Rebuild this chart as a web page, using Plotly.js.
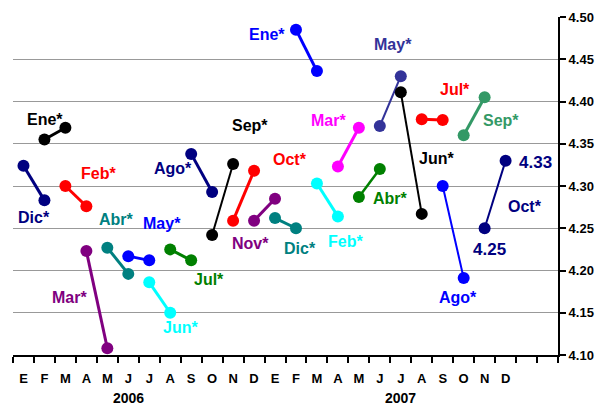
<!DOCTYPE html>
<html><head><meta charset="utf-8">
<script src="https://cdn.plot.ly/plotly-3.0.1.min.js"></script>
<style>html,body{margin:0;padding:0;background:#fff}#chart{width:603px;height:407px}</style>
</head><body><div id="chart"></div>
<script>
// ---- data ----
const months = ['E','F','M','A','M','J','J','A','S','O','N','D','E','F','M','A','M','J','J','A','S','O','N','D'];
const years = ['2006','2007'];
const seriesNames = ['Dic*','Ene*','Feb*','Mar*','Abr*','May*','Jun*','Jul*','Ago*','Sep*','Oct*','Nov*',
                     'Dic*','Ene*','Feb*','Mar*','Abr*','May*','Jun*','Jul*','Ago*','Sep*','Oct*'];
const startValues = [4.324,4.355,4.300,4.223,4.227,4.217,4.186,4.225,4.338,4.242,4.259,4.259,
                     4.262,4.485,4.303,4.323,4.287,4.371,4.411,4.379,4.300,4.360,4.25];
const endValues   = [4.283,4.369,4.276,4.108,4.196,4.212,4.150,4.212,4.293,4.326,4.318,4.285,
                     4.250,4.436,4.264,4.369,4.320,4.430,4.267,4.378,4.191,4.405,4.33];
const valueLabels = ['4.25','4.33'];

// ---- styles / layout helpers ----
const colors = ['#000080','#000000','#FF0000','#800080','#008080','#0000FF','#00FFFF','#008000','#000080','#000000','#FF0000','#800080',
                '#008080','#0000FF','#00FFFF','#FF00FF','#008000','#333399','#000000','#FF0000','#0000FF','#339966','#000080'];
const widths = [3,3,3,3,3,3,3,3,3,2,3,3, 3,3,3,3,2.5,2,2,3,2,3,2];
// label anchor positions (data coords)
const labelX = [0.51,1.01,3.56,2.21,4.44,6.6,7.51,8.85,7.11,10.8,12.71,10.84,
                13.2,11.6,15.35,14.56,17.49,17.61,19.72,20.59,20.75,22.79,23.92];
const labelY = [4.263,4.379,4.315,4.168,4.260,4.256,4.133,4.189,4.321,4.372,4.331,4.232,
                4.226,4.479,4.234,4.377,4.285,4.468,4.333,4.414,4.168,4.377,4.276];

const FONT = 'Liberation Sans, Arial, sans-serif';
const traces = seriesNames.map((n,k)=>({
  x:[k,k+1], y:[startValues[k], endValues[k]],
  mode:'lines+markers', type:'scatter', showlegend:false,
  line:{color:colors[k], width:widths[k]},
  marker:{color:colors[k], size:12},
  hoverinfo:'skip', cliponaxis:false
}));

const annotations = seriesNames.map((n,k)=>({
  x:labelX[k], y:labelY[k], xref:'x', yref:'y', text:n, showarrow:false,
  xanchor:'center', yanchor:'middle',
  font:{family:FONT, size:16, color:colors[k], weight:700}
}));
const last = seriesNames.length-1;
annotations.push({x:22.22, y:4.225, xref:'x', yref:'y', text:valueLabels[0], showarrow:false,
  xanchor:'center', yanchor:'middle', font:{family:FONT, size:17, color:colors[last], weight:700}});
annotations.push({x:24.41, y:4.328, xref:'x', yref:'y', text:valueLabels[1], showarrow:false,
  xanchor:'center', yanchor:'middle', font:{family:FONT, size:17, color:colors[last], weight:700}});
annotations.push({x:5.0, y:-0.127, xref:'x', yref:'paper', text:years[0], showarrow:false,
  xanchor:'center', yanchor:'middle', font:{family:FONT, size:14, color:'#000', weight:700}});
annotations.push({x:17.97, y:-0.127, xref:'x', yref:'paper', text:years[1], showarrow:false,
  xanchor:'center', yanchor:'middle', font:{family:FONT, size:14, color:'#000', weight:700}});

const boundaries = [];
for (let i=0;i<=26;i++) boundaries.push(i-0.5);

const layout = {
  width:603, height:407,
  margin:{l:13, r:45, t:17, b:52},
  paper_bgcolor:'#fff', plot_bgcolor:'#fff',
  showlegend:false,
  xaxis:{range:[-0.5,25.5], tickmode:'array', tickvals:boundaries, ticktext:boundaries.map(()=>''),
    ticks:'outside', ticklen:6, tickwidth:2, tickcolor:'#000', showgrid:false, zeroline:false,
    showline:true, linecolor:'#000', linewidth:2, fixedrange:true},
  xaxis2:{range:[-0.5,25.5], overlaying:'x', side:'bottom', tickmode:'array',
    tickvals:months.map((m,i)=>i), ticktext:months, ticks:'outside', ticklen:11, tickcolor:'rgba(0,0,0,0)',
    showgrid:false, zeroline:false, showline:false,
    tickfont:{family:FONT, size:13, color:'#000', weight:700}},
  yaxis:{range:[4.10,4.50], side:'right', dtick:0.05, tick0:4.10, tickformat:'.2f',
    ticks:'outside', ticklen:6, tickwidth:2, tickcolor:'#000',
    showline:true, linecolor:'#000', linewidth:2, showgrid:true, gridcolor:'#999', gridwidth:1,
    zeroline:false, tickfont:{family:FONT, size:13, color:'#000', weight:700}, fixedrange:true},
  annotations:annotations
};
// dummy trace to activate xaxis2
traces.push({x:[0], y:[4.3], xaxis:'x2', mode:'markers', marker:{opacity:0}, showlegend:false, hoverinfo:'skip'});
Plotly.newPlot('chart', traces, layout, {displayModeBar:false, staticPlot:true});
</script></body></html>
